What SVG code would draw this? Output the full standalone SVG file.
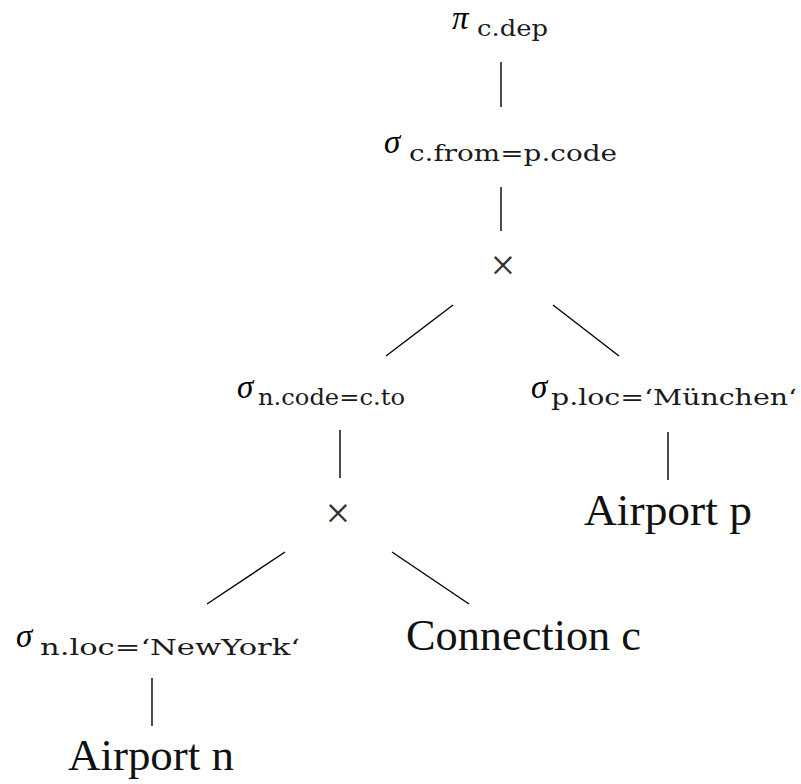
<svg xmlns="http://www.w3.org/2000/svg" width="801" height="784" viewBox="0 0 801 784">
  <style>
    .op { font-style: italic; font-size: 33px; fill: #000; }
    .sub { font-size: 23px; fill: #1a1a1a; }
    .x { font-size: 44px; fill: #333; text-anchor: middle; }
    .rel { font-size: 44px; fill: #111; }
    .edge { stroke: #000; stroke-width: 1.4; fill: none; }
  </style>
  <rect width="801" height="784" fill="#fff"/>

  <!-- edges of the operator tree -->
  <g id="connectors">
    <line class="edge" x1="501" y1="62" x2="501" y2="107"/>
    <line class="edge" x1="501" y1="187" x2="501" y2="231"/>
    <line class="edge" x1="453" y1="305" x2="386" y2="356"/>
    <line class="edge" x1="553" y1="305" x2="619" y2="356"/>
    <line class="edge" x1="340" y1="430" x2="340" y2="478"/>
    <line class="edge" x1="668" y1="432" x2="668" y2="480"/>
    <line class="edge" x1="285" y1="552" x2="207" y2="604"/>
    <line class="edge" x1="392" y1="552" x2="469" y2="604"/>
    <line class="edge" x1="152" y1="678" x2="152" y2="726"/>
  </g>

  <g font-family="Liberation Serif, serif">
    <g id="project">
      <text class="op" x="452" y="29" font-size="37">π</text>
      <text class="sub" x="477" y="36" font-family="DejaVu Serif, serif" textLength="71" lengthAdjust="spacingAndGlyphs">c.dep</text>
    </g>

    <g id="select-from-code">
      <text class="op" x="384" y="153">σ</text>
      <text class="sub" x="409" y="161" font-family="DejaVu Serif, serif" textLength="208" lengthAdjust="spacingAndGlyphs">c.from=p.code</text>
    </g>

    <g id="cross-top">
      <text class="x" x="503" y="280">×</text>
    </g>

    <g id="select-code-to">
      <text class="op" x="237" y="398">σ</text>
      <text class="sub" x="258" y="405" font-family="DejaVu Serif, serif" textLength="147" lengthAdjust="spacingAndGlyphs">n.code=c.to</text>
    </g>

    <g id="select-muenchen">
      <text class="op" x="531" y="398">σ</text>
      <text class="sub" x="551" y="405" font-family="DejaVu Serif, serif" textLength="246" lengthAdjust="spacingAndGlyphs">p.loc=‘München‘</text>
    </g>

    <g id="cross-bottom">
      <text class="x" x="338" y="528">×</text>
    </g>

    <g id="airport-p">
      <text class="rel" x="584" y="525" textLength="168" lengthAdjust="spacingAndGlyphs">Airport p</text>
    </g>

    <g id="select-newyork">
      <text class="op" x="16" y="647">σ</text>
      <text class="sub" x="40" y="655" font-family="DejaVu Serif, serif" textLength="260" lengthAdjust="spacingAndGlyphs">n.loc=‘NewYork‘</text>
    </g>

    <g id="connection-c">
      <text class="rel" x="406" y="650" textLength="235" lengthAdjust="spacingAndGlyphs">Connection c</text>
    </g>

    <g id="airport-n">
      <text class="rel" x="68" y="770" textLength="166" lengthAdjust="spacingAndGlyphs">Airport n</text>
    </g>
  </g>
</svg>
